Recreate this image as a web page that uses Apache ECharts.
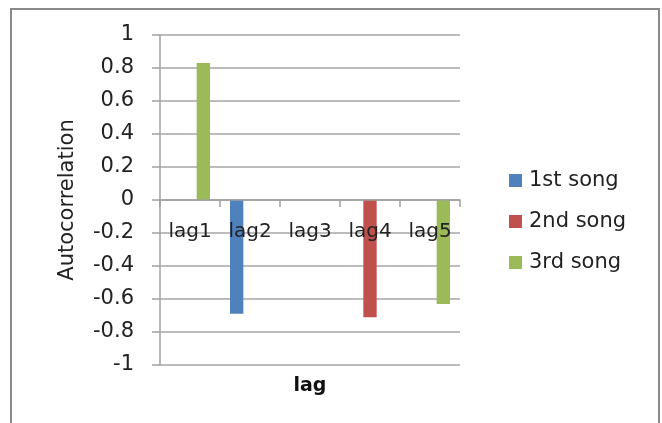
<!DOCTYPE html>
<html>
<head>
<meta charset="utf-8">
<script src="https://cdn.jsdelivr.net/npm/echarts@6/dist/echarts.min.js"></script>
<style>
html,body{margin:0;padding:0;background:#fff;}
#chart{width:662px;height:423px;}
</style>
</head>
<body>
<div id="chart"></div>
<script>
const categories = ['lag1', 'lag2', 'lag3', 'lag4', 'lag5'];
const song1 = [null, -0.69, null, null, null];
const song2 = [null, null, null, -0.71, null];
const song3 = [0.83, null, null, null, -0.63];
const seriesNames = ['1st song', '2nd song', '3rd song'];
const colors = ['#4F81BD', '#C0504D', '#9BBB59'];
const yMin = -1, yMax = 1, yStep = 0.2;

const FONT = 'DejaVu Sans';
const chart = echarts.init(document.getElementById('chart'), null, {renderer: 'canvas'});
const data = [song1, song2, song3];
chart.setOption({
  animation: false,
  color: colors,
  textStyle: {fontFamily: FONT},
  graphic: [{
    type: 'rect', z: -10, silent: true,
    shape: {x: 11, y: 9, width: 648, height: 440},
    style: {fill: '#fff', stroke: '#8a8a8a', lineWidth: 2}
  }],
  grid: {left: 160, right: 202, top: 35, bottom: 58, containLabel: false, outerBoundsMode: 'none'},
  legend: {
    orient: 'vertical', left: 504, top: 165,
    itemWidth: 13, itemHeight: 13, itemGap: 20, icon: 'rect',
    textStyle: {fontFamily: FONT, fontSize: 21, color: '#222', padding: [0, 0, 0, 2]},
    data: seriesNames
  },
  xAxis: {
    type: 'category', data: categories, z: 5, position: 'bottom', offset: -165,
    name: 'lag', nameLocation: 'middle', nameGap: 177,
    nameTextStyle: {fontFamily: FONT, fontSize: 19, fontWeight: 'bold', color: '#111'},
    axisLine: {onZero: false, lineStyle: {color: '#a0a0a0', width: 1.5}},
    axisTick: {show: true, length: 7, lineStyle: {color: '#a0a0a0', width: 1.5}},
    axisLabel: {fontFamily: FONT, fontSize: 20, color: '#222', margin: 22},
    splitLine: {show: false}
  },
  yAxis: {
    type: 'value', min: yMin, max: yMax, interval: yStep,
    name: 'Autocorrelation', nameLocation: 'middle', nameGap: 82, nameRotate: 90,
    nameTextStyle: {fontFamily: FONT, fontSize: 21, color: '#222'},
    axisLine: {show: true, lineStyle: {color: '#a0a0a0', width: 1.5}},
    axisTick: {show: true, length: 8, lineStyle: {color: '#a0a0a0', width: 1.5}},
    axisLabel: {fontFamily: FONT, fontSize: 21, color: '#222', margin: 26,
      showMinLabel: true, showMaxLabel: true,
      formatter: v => String(Math.round(v * 10) / 10)},
    splitLine: {show: true, lineStyle: {color: '#a6a6a6', width: 1.5}}
  },
  series: data.map((d, i) => ({
    name: seriesNames[i], type: 'bar', data: d,
    barGap: '0%', barCategoryGap: '33.3%',
    itemStyle: {color: colors[i]}
  }))
});
</script>
</body>
</html>
